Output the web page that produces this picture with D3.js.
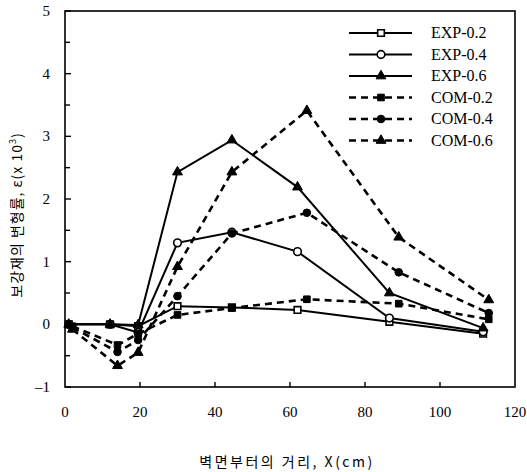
<!DOCTYPE html>
<html><head><meta charset="utf-8">
<script src="https://cdn.jsdelivr.net/npm/d3@7"></script>
<style>body{margin:0;background:#fff}svg{display:block}</style>
</head><body>
<svg id="c" width="527" height="472"></svg>
<script>
const expX = [1, 12, 19.5, 30, 44.5, 62, 86.5, 111.5];
const exp02 = [0, 0, -0.03, 0.29, 0.27, 0.23, 0.04, -0.15];
const exp04 = [0, 0, -0.13, 1.30, 1.47, 1.16, 0.10, -0.12];
const exp06 = [0, 0, -0.01, 2.43, 2.94, 2.19, 0.50, -0.06];
const comX = [2, 14, 19.5, 30, 44.5, 64.5, 89, 113];
const com02 = [-0.03, -0.33, -0.15, 0.15, 0.26, 0.40, 0.33, 0.08];
const com04 = [-0.05, -0.44, -0.25, 0.45, 1.45, 1.78, 0.83, 0.18];
const com06 = [-0.08, -0.66, -0.45, 0.92, 2.43, 3.41, 1.39, 0.39];
const seriesNames = ["EXP-0.2","EXP-0.4","EXP-0.6","COM-0.2","COM-0.4","COM-0.6"];
const xTicks = [0,20,40,60,80,100,120];
const yTicks = [-1,0,1,2,3,4,5];
const xTitle = "벽면부터의 거리, X(cm)";
const yTitleMain = "보강재의 변형률, ε(x 10";
const yTitleSup = "3";

const series = [
  {name: seriesNames[0], xs: expX, ys: exp02, sym: d3.symbolSquare, open: true, dash: false},
  {name: seriesNames[1], xs: expX, ys: exp04, sym: d3.symbolCircle, open: true, dash: false},
  {name: seriesNames[2], xs: expX, ys: exp06, sym: d3.symbolTriangle, open: false, dash: false},
  {name: seriesNames[3], xs: comX, ys: com02, sym: d3.symbolSquare, open: false, dash: true},
  {name: seriesNames[4], xs: comX, ys: com04, sym: d3.symbolCircle, open: false, dash: true},
  {name: seriesNames[5], xs: comX, ys: com06, sym: d3.symbolTriangle, open: false, dash: true},
];

const L = 65, R = 515, T = 11, B = 387;
const svg = d3.select("#c");
const font = "'Liberation Serif','Times New Roman',serif";
const x = d3.scaleLinear().domain([0,120]).range([L,R]);
const y = d3.scaleLinear().domain([-1,5]).range([B,T]);

svg.append("rect").attr("x",L).attr("y",T).attr("width",R-L).attr("height",B-T)
  .attr("fill","none").attr("stroke","#000").attr("stroke-width",1.6);

const yMinor = d3.range(-1,5.01,0.5);
svg.append("g").selectAll("line").data(yMinor).join("line")
  .attr("x1",L).attr("x2",d=>L+(Number.isInteger(d)?6:5)).attr("y1",d=>y(d)).attr("y2",d=>y(d))
  .attr("stroke","#000").attr("stroke-width",1.4);
svg.append("g").selectAll("text").data(yTicks).join("text")
  .attr("x",L-15).attr("y",d=>y(d)+5).attr("text-anchor","end")
  .attr("font-family",font).attr("font-size",15).text(d=>d<0?"\u2013"+Math.abs(d):d);

svg.append("g").selectAll("line").data(xTicks.slice(1,-1)).join("line")
  .attr("x1",d=>x(d)).attr("x2",d=>x(d)).attr("y1",B).attr("y2",B-5)
  .attr("stroke","#000").attr("stroke-width",1.4);
svg.append("g").selectAll("text").data(xTicks).join("text")
  .attr("x",d=>x(d)).attr("y",B+30).attr("text-anchor","middle")
  .attr("font-family",font).attr("font-size",15).text(d=>d);

svg.append("text").attr("x",287).attr("y",467).attr("text-anchor","middle")
  .attr("font-family","'Noto Sans CJK KR',serif").attr("font-size",14).attr("letter-spacing",2.5).text(xTitle);
const yt = svg.append("text").attr("transform","translate(22,215) rotate(-90)")
  .attr("text-anchor","middle").attr("font-family","'Noto Sans CJK KR',serif").attr("font-size",14).attr("letter-spacing",1);
yt.append("tspan").text(yTitleMain);
yt.append("tspan").attr("font-size",9).attr("dy",-6).text(yTitleSup);
yt.append("tspan").attr("dy",6).text(")");

const symSize = s => s===d3.symbolTriangle?42:(s===d3.symbolCircle?46:44);
const line = d3.line().x(d=>x(d[0])).y(d=>y(d[1]));
series.forEach(s=>{
  const pts = s.xs.map((v,i)=>[v,s.ys[i]]);
  svg.append("path").datum(pts).attr("d",line).attr("fill","none").attr("stroke","#000")
    .attr("stroke-width",s.dash?2.6:2).attr("stroke-dasharray",s.dash?"7,5":null);
});
series.forEach(s=>{
  const pts = s.xs.map((v,i)=>[v,s.ys[i]]);
  svg.append("g").selectAll("path").data(pts).join("path")
    .attr("d",d3.symbol().type(s.sym).size(symSize(s.sym)))
    .attr("transform",d=>`translate(${x(d[0])},${y(d[1])})`)
    .attr("fill",s.open?"#fff":"#000").attr("stroke","#000").attr("stroke-width",s.open?1.6:1);
});

const lg = svg.append("g");
series.forEach((s,i)=>{
  const ly = 33 + i*21.5;
  lg.append("line").attr("x1",349).attr("x2",412).attr("y1",ly).attr("y2",ly)
    .attr("stroke","#000").attr("stroke-width",s.dash?2.6:2).attr("stroke-dasharray",s.dash?"7,5":null);
  lg.append("path").attr("d",d3.symbol().type(s.sym).size(symSize(s.sym)))
    .attr("transform",`translate(381,${ly})`)
    .attr("fill",s.open?"#fff":"#000").attr("stroke","#000").attr("stroke-width",s.open?1.6:1);
  lg.append("text").attr("x",431).attr("y",ly+5).attr("font-family",font).attr("font-size",16).text(s.name);
});
</script>
</body></html>
